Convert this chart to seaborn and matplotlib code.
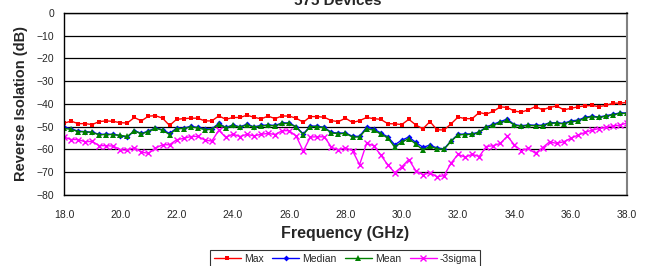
import numpy as np
import pandas as pd
import matplotlib
matplotlib.use("Agg")
import matplotlib.pyplot as plt
import seaborn as sns

# frequency grid, 0.25 GHz steps
freq = np.linspace(18.0, 38.0, 81)

max_db = [
    -48.5, -47.6, -48.7, -48.7,   # 18
    -49.1, -47.8, -47.5, -47.7,   # 19
    -48.3, -48.4, -46.0, -47.5,   # 20
    -45.4, -45.2, -46.3, -49.5,   # 21
    -46.8, -46.5, -46.3, -46.3,   # 22
    -47.5, -47.5, -45.3, -46.8,   # 23
    -46.0, -46.0, -45.0, -45.9,   # 24
    -46.6, -45.4, -46.5, -45.3,   # 25
    -45.4, -46.3, -48.1, -45.6,   # 26
    -45.6, -45.9, -47.4, -47.8,   # 27
    -46.3, -48.2, -47.4, -46.0,   # 28
    -46.5, -46.8, -48.7, -48.8,   # 29
    -49.1, -46.8, -49.3, -51.0,   # 30
    -47.8, -51.4, -51.5, -48.8,   # 31
    -45.8, -46.5, -46.5, -43.8,   # 32
    -44.5, -43.3, -41.3, -41.6,   # 33
    -43.2, -43.6, -42.6, -41.2,   # 34
    -42.6, -41.6, -40.9, -42.6,   # 35
    -42.0, -41.3, -40.9, -40.7,   # 36
    -41.2, -40.7, -39.7, -39.7,   # 37
    -39.3,
]

mean_db = [
    -50.8, -51.2, -52.2, -52.3,
    -52.6, -53.6, -53.5, -53.5,
    -53.9, -54.3, -51.9, -53.2,
    -52.2, -50.7, -51.6, -53.5,
    -50.9, -50.9, -50.1, -50.6,
    -51.3, -51.3, -48.8, -50.6,
    -49.5, -50.3, -49.2, -50.3,
    -49.7, -49.5, -49.7, -48.6,
    -48.6, -50.3, -53.5, -50.0,
    -50.0, -50.6, -52.8, -53.1,
    -53.0, -54.6, -54.6, -50.9,
    -51.6, -53.2, -55.0, -59.0,
    -56.8, -55.3, -57.7, -60.3,
    -58.7, -59.8, -60.0, -56.5,
    -53.6, -53.5, -53.4, -52.6,
    -50.3, -49.3, -48.2, -47.3,
    -49.4, -49.8, -49.5, -49.6,
    -49.6, -48.5, -48.5, -48.8,
    -47.8, -47.6, -46.3, -45.6,
    -46.0, -45.4, -44.8, -44.2,
    -44.2,
]

median_db = [
    -50.2, -51.0, -52.0, -52.2,
    -52.5, -53.4, -53.4, -53.4,
    -54.0, -54.7, -51.8, -53.0,
    -52.0, -50.5, -51.4, -53.0,
    -50.7, -50.7, -49.9, -50.4,
    -51.0, -51.0, -48.6, -50.4,
    -49.3, -50.1, -49.0, -50.1,
    -49.5, -49.3, -49.5, -48.4,
    -48.4, -50.1, -53.2, -49.8,
    -49.8, -50.4, -52.6, -52.9,
    -52.8, -54.3, -54.3, -50.3,
    -51.0, -52.8, -54.5, -58.0,
    -56.0, -54.6, -57.0, -59.1,
    -58.2, -59.4, -59.8, -56.3,
    -53.4, -53.3, -53.2, -52.4,
    -50.1, -49.0, -47.8, -46.7,
    -49.2, -49.6, -49.3, -49.4,
    -49.4, -48.3, -48.3, -48.6,
    -47.5, -47.2, -46.0, -45.4,
    -45.8, -45.2, -44.6, -44.0,
    -44.0,
]

sigma3_db = [
    -54.6, -55.7, -55.7, -56.7,
    -56.5, -58.4, -58.4, -58.6,
    -60.2, -60.4, -59.3, -61.2,
    -61.8, -59.5, -58.0, -58.0,
    -55.8, -55.2, -54.4, -54.3,
    -55.9, -56.4, -51.6, -54.8,
    -53.3, -54.4, -53.4, -54.1,
    -53.4, -53.0, -53.5, -51.8,
    -51.8, -54.2, -60.8, -54.6,
    -54.5, -54.5, -59.1, -60.3,
    -59.4, -60.6, -66.8, -57.4,
    -58.4, -62.5, -66.8, -70.3,
    -67.7, -64.5, -69.5, -71.2,
    -70.4, -72.1, -71.6, -66.1,
    -62.2, -63.5, -62.2, -63.2,
    -58.8, -58.4, -57.4, -54.2,
    -58.1, -60.6, -59.6, -61.8,
    -59.3, -56.7, -57.4, -56.7,
    -55.2, -53.8, -52.6, -51.6,
    -50.9, -50.4, -49.7, -49.4,
    -48.4,
]

x_ticks = [18.0, 20.0, 22.0, 24.0, 26.0, 28.0, 30.0, 32.0, 34.0, 36.0, 38.0]
y_ticks = [0, -10, -20, -30, -40, -50, -60, -70, -80]

sns.set_style("white")
plt.rcParams["font.family"] = ["Liberation Sans", "DejaVu Sans"]

fig = plt.figure(figsize=(6.49, 2.66), dpi=100)
ax = fig.add_axes([0.0986, 0.268, 0.8675, 0.683])

series = [
    ("Max", max_db, "#FF0000", "s", 3.5),
    ("Median", median_db, "#0000FF", "D", 3.0),
    ("Mean", mean_db, "#008000", "^", 4.2),
    ("-3sigma", sigma3_db, "#FF00FF", "x", 5.0),
]
for name, vals, col, mk, ms in series:
    sns.lineplot(x=freq, y=vals, ax=ax, color=col, marker=mk, markersize=ms,
                 markeredgecolor=col, markeredgewidth=1.0 if mk == "x" else 0,
                 linewidth=1.0, label=name)

ax.set_xlim(18.0, 38.0)
ax.set_ylim(-80, 0)
ax.set_xticks(x_ticks)
ax.set_xticklabels([f"{t:.1f}" for t in x_ticks])
ax.set_yticks(y_ticks)
ax.yaxis.grid(True, color="black", linewidth=0.9)
ax.set_axisbelow(True)
ax.tick_params(axis="both", labelsize=7.5, direction="out", length=3, width=0.8,
               color="black", pad=4)
ax.tick_params(axis="x", pad=8)
for side in ["left", "bottom", "top"]:
    ax.spines[side].set_color("black")
    ax.spines[side].set_linewidth(1.0)
ax.spines["right"].set_color("#808080")
ax.spines["right"].set_linewidth(1.5)

ax.set_xlabel("Frequency (GHz)", fontsize=11.5, fontweight="bold", labelpad=4)
ax.set_ylabel("Reverse Isolation (dB)", fontsize=10.5, fontweight="bold", labelpad=6)

fig.text(0.52, 0.997, "575 Devices", ha="center", va="center",
         fontsize=11, fontweight="bold")

handles, labels = ax.get_legend_handles_labels()
ax.get_legend().remove()
leg = fig.legend(handles, labels, loc="upper center", bbox_to_anchor=(0.532, 0.078),
                 ncol=4, fontsize=7.5, frameon=True, fancybox=False,
                 edgecolor="black", handlelength=2.6, handletextpad=0.3,
                 columnspacing=0.8, borderpad=0.35)
leg.get_frame().set_linewidth(0.8)

fig.savefig("out.png", dpi=100)
